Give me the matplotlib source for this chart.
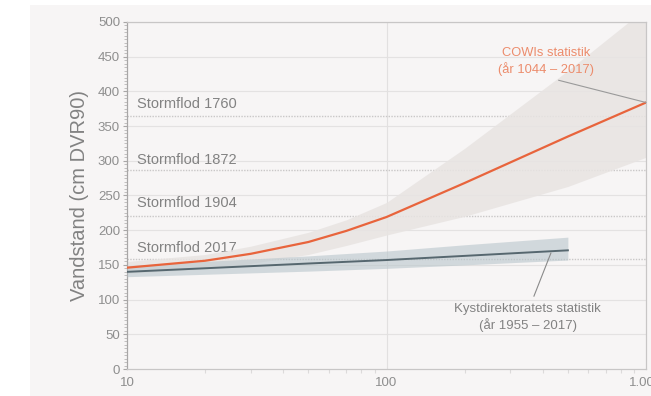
import numpy as np
import matplotlib
matplotlib.use("Agg")
import matplotlib.pyplot as plt
from matplotlib.ticker import FixedLocator, FixedFormatter, MultipleLocator, NullFormatter
from matplotlib.patches import Rectangle

plt.rcParams['font.family'] = ['Liberation Sans', 'DejaVu Sans']

# ─── Data ─────────────────────────────────────────────────────────────────────
# Gentagelsesperiode (år)
cowi_x = [10, 20, 30, 50, 70, 100, 200, 500, 1000]
cowi_mid = [146, 156, 166, 183, 199, 219, 268, 335, 384]
cowi_low = [138, 144, 152, 165, 178, 193, 220, 263, 305]
cowi_high = [155, 165, 177, 197, 215, 240, 318, 430, 520]

kyst_x = [10, 50, 100, 200, 500]
kyst_mid = [140, 152, 157, 163, 171]
kyst_low = [133, 141, 145, 150, 157]
kyst_high = [149, 163, 170, 179, 190]

storm_names = ['Stormflod 1760', 'Stormflod 1872', 'Stormflod 1904', 'Stormflod 2017']
storm_levels = [364, 287, 220, 158]
storm_text_y = [382, 301, 239, 174]

x_ticks = [10, 100, 1000]
x_labels = ['10', '100', '1.000']

# ─── Farver ───────────────────────────────────────────────────────────────────
BG = '#f7f5f5'
ORANGE = '#e8643c'
ORANGE_TXT = '#ec8c6c'
GREY_TXT = '#828282'

fig = plt.figure(figsize=(6.51, 3.96), dpi=100, facecolor='white')
# grå baggrund (hvid kant til venstre og foroven)
bg = Rectangle((30 / 651, 0), 1, 1 - 5 / 396, transform=fig.transFigure,
               facecolor=BG, edgecolor='none', zorder=-10)
fig.add_artist(bg)

ax = fig.add_axes([127 / 651, 1 - 369 / 396, 519 / 651, 347 / 396])
ax.set_facecolor(BG)
ax.set_xscale('log')
ax.set_xlim(10, 1000)
ax.set_ylim(0, 500)

# gitter
for y in range(50, 501, 50):
    ax.axhline(y, color='#e4e2e2', lw=0.8, zorder=1)
ax.axvline(100, color='#e2e0e0', lw=0.8, zorder=1)

# stormflods-niveauer
for name, lvl, ty in zip(storm_names, storm_levels, storm_text_y):
    ax.axhline(lvl, color='#c9c7c7', lw=1.0, ls=(0, (1, 1)), zorder=1)
    ax.text(10.9, ty, name, fontsize=10.5, color=GREY_TXT, va='center', ha='left', zorder=2)

# COWI
ax.fill_between(cowi_x, cowi_low, cowi_high, color='#e8e4e2', alpha=0.85, lw=0, zorder=2)
ax.plot(cowi_x, cowi_mid, color=ORANGE, lw=1.6, zorder=4)

# Kystdirektoratet
ax.fill_between(kyst_x, kyst_low, kyst_high, color='#b9c6cc', alpha=0.6, lw=0, zorder=3)
ax.plot(kyst_x, kyst_mid, color='#56676f', lw=1.4, zorder=4)

# annoteringer
ax.plot([461, 1000], [416, 384], color='#9a9a9a', lw=0.8, zorder=5, clip_on=False)
ax.text(411, 443, 'COWIs statistik\n(år 1044 – 2017)', color=ORANGE_TXT, fontsize=9.3,
        ha='center', va='center', linespacing=1.25, zorder=5)
ax.plot([370, 430], [105, 167], color='#8a8a8a', lw=0.8, zorder=5)
ax.text(350, 74, 'Kystdirektoratets statistik\n(år 1955 – 2017)', color=GREY_TXT, fontsize=9.5,
        ha='center', va='center', linespacing=1.25, zorder=5)

# akser
for s in ax.spines.values():
    s.set_color('#c8c6c6')
    s.set_linewidth(0.9)
ax.spines['left'].set_color('#a8a6a6')

ax.xaxis.set_major_locator(FixedLocator(x_ticks))
ax.xaxis.set_major_formatter(FixedFormatter(x_labels))
ax.xaxis.set_minor_formatter(NullFormatter())
ax.yaxis.set_major_locator(MultipleLocator(50))
ax.yaxis.set_minor_locator(MultipleLocator(5))
ax.tick_params(axis='both', which='major', labelsize=9.5, labelcolor='#8e8e8e', color='#a8a6a6',
               length=3, width=0.8, pad=2)
ax.tick_params(axis='x', which='major', length=0, pad=6)
ax.tick_params(axis='x', which='minor', length=3, color='#dcdada', width=0.8)
ax.tick_params(axis='y', which='minor', length=2, color='#b8b6b6', width=0.6)

ax.set_ylabel('Vandstand (cm DVR90)', fontsize=14.5, color=GREY_TXT, labelpad=6)

fig.savefig('out.png', dpi=100, facecolor=fig.get_facecolor())
